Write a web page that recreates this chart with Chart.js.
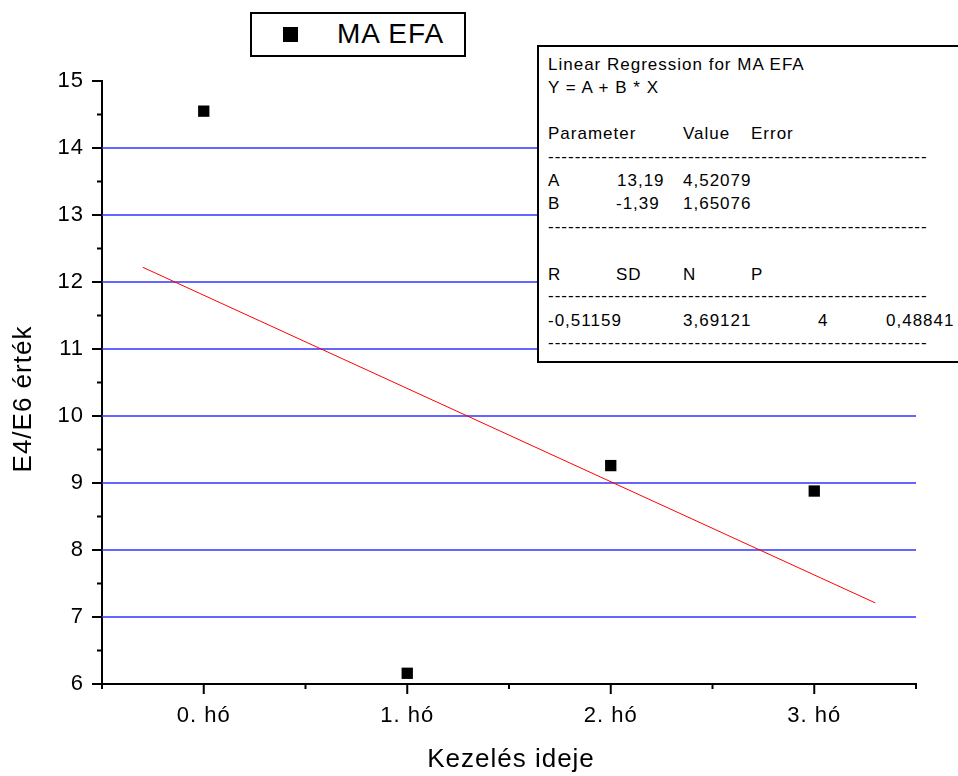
<!DOCTYPE html>
<html lang="hu">
<head>
    <meta charset="UTF-8">
    <title>MA EFA - E4/E6 érték</title>
    <script src="https://cdn.jsdelivr.net/npm/chart.js"></script>
    <style>
        body {
            margin: 0;
            background: #fff;
            font-family: "Liberation Sans", Arial, sans-serif;
            letter-spacing: 1px;
            color: #000;
        }
        #wrap {
            position: relative;
            width: 958px;
            height: 776px;
            overflow: hidden;
        }
        #myChart {
            position: absolute;
            left: 0;
            top: 0;
        }
        .abs { position: absolute; white-space: nowrap; }
        #xTitle {
            left: 411px; top: 743px; width: 200px;
            text-align: center; font-size: 26px; line-height: 30px;
        }
        #yTitle {
            left: -78px; top: 384px; width: 200px;
            text-align: center; font-size: 26px; line-height: 30px;
            transform: rotate(-90deg);
        }
        #legendBox {
            left: 250px; top: 12px; width: 216px; height: 45px;
            box-sizing: border-box; border: 2px solid #000; background: #fff;
        }
        #legendMark {
            left: 283px; top: 27px; width: 15px; height: 15px; background: #000;
        }
        #legendText {
            left: 337px; top: 18px; font-size: 28px; line-height: 32px;
        }
        #regBox {
            left: 537px; top: 45px; width: 440px; height: 318px;
            box-sizing: border-box; border: 2px solid #000; background: #fff;
        }
        .reg { font-size: 17px; line-height: 20px; }
        .dash { width: 380px; overflow: hidden; }
    </style>
</head>
<body>

<div id="wrap">
    <canvas id="myChart" width="958" height="776"></canvas>
    <div id="xTitle" class="abs">Kezelés ideje</div>
    <div id="yTitle" class="abs">E4/E6 érték</div>
    <div id="legendBox" class="abs"></div>
    <div id="legendMark" class="abs"></div>
    <div id="legendText" class="abs">MA EFA</div>
    <div id="regBox" class="abs"></div>
    <div id="regText"></div>
</div>

<script>
    // adatok
    const categories = ['0. hó', '1. hó', '2. hó', '3. hó'];
    const xValues = [0, 1, 2, 3];
    const efaValues = [14.55, 6.16, 9.26, 8.88];

    // illesztett egyenes végpontjai (leolvasva)
    const fitX = [-0.3, 3.3];
    const fitY = [12.22, 7.21];

    // kék vízszintes rácsvonalak
    const gridValues = [7, 8, 9, 10, 11, 12, 13, 14];

    // regressziós táblázat sorai: [baseline y, [[x, szöveg], ...]]
    const regRows = [
        [71, [[548, 'Linear Regression for MA EFA']]],
        [93.5, [[548, 'Y = A + B * X']]],
        [140, [[548, 'Parameter'], [683, 'Value'], [751, 'Error']]],
        [163, [[548, '-'.repeat(70)]]],
        [187, [[548, 'A'], [617, '13,19'], [683, '4,52079']]],
        [210, [[548, 'B'], [616, '-1,39'], [683, '1,65076']]],
        [233, [[548, '-'.repeat(70)]]],
        [281, [[548, 'R'], [616, 'SD'], [683, 'N'], [751, 'P']]],
        [302, [[548, '-'.repeat(70)]]],
        [327, [[548, '-0,51159'], [683, '3,69121'], [818, '4'], [886, '0,48841']]],
        [349, [[548, '-'.repeat(70)]]]
    ];

    const regText = document.getElementById('regText');
    regRows.forEach(function (row) {
        row[1].forEach(function (cell) {
            const d = document.createElement('div');
            d.className = 'abs reg' + (cell[1].startsWith('---') ? ' dash' : '');
            d.style.left = cell[0] + 'px';
            d.style.top = (row[0] - 16) + 'px';
            d.textContent = cell[1];
            regText.appendChild(d);
        });
    });

    // rácsvonalak és osztásjelek
    const axisDeco = {
        id: 'axisDeco',
        beforeUpdate(chart) { chart.ctx.letterSpacing = '1px'; },
        beforeDraw(chart) { chart.ctx.letterSpacing = '1px'; },
        beforeDatasetsDraw(chart) {
            const ctx = chart.ctx;
            const area = chart.chartArea;
            ctx.save();
            ctx.strokeStyle = 'rgb(50,50,255)';
            ctx.lineWidth = 1.5;
            gridValues.forEach(function (v) {
                const py = chart.scales.y.getPixelForValue(v);
                ctx.beginPath();
                ctx.moveTo(area.left, py);
                ctx.lineTo(area.right, py);
                ctx.stroke();
            });
            ctx.restore();
        },
        afterDraw(chart) {
            const ctx = chart.ctx;
            const area = chart.chartArea;
            ctx.save();
            ctx.strokeStyle = '#000';
            ctx.lineWidth = 2;
            chart.scales.y.ticks.forEach(function (t) {
                const py = chart.scales.y.getPixelForValue(t.value);
                const len = Number.isInteger(t.value) ? 10 : 5;
                ctx.beginPath();
                ctx.moveTo(area.left - len, py);
                ctx.lineTo(area.left, py);
                ctx.stroke();
            });
            chart.scales.x.ticks.forEach(function (t) {
                const px = chart.scales.x.getPixelForValue(t.value);
                const len = Number.isInteger(t.value) ? 10 : 5;
                ctx.beginPath();
                ctx.moveTo(px, area.bottom);
                ctx.lineTo(px, area.bottom + len);
                ctx.stroke();
            });
            ctx.restore();
        }
    };

    const ctx = document.getElementById('myChart').getContext('2d');
    const myChart = new Chart(ctx, {
        type: 'scatter',
        data: {
            datasets: [{
                label: 'MA EFA',
                data: xValues.map((x, i) => ({ x: x, y: efaValues[i] })),
                pointStyle: 'rect',
                pointRadius: 8,
                pointBackgroundColor: '#000',
                pointBorderWidth: 0,
                showLine: false
            }, {
                label: 'Linear fit',
                type: 'line',
                data: fitX.map((x, i) => ({ x: x, y: fitY[i] })),
                borderColor: '#ff0000',
                borderWidth: 1,
                pointRadius: 0,
                fill: false
            }]
        },
        options: {
            responsive: false,
            animation: false,
            layout: { padding: { top: 81, right: 42, left: 0, bottom: 0 } },
            plugins: {
                legend: { display: false },
                tooltip: { enabled: false }
            },
            scales: {
                x: {
                    type: 'linear',
                    min: -0.5,
                    max: 3.5,
                    afterFit: function (s) { s.height = 92; },
                    border: { display: true, color: '#000', width: 2 },
                    grid: {
                        drawOnChartArea: false,
                        tickColor: 'rgba(0,0,0,0)',
                        tickLength: 10
                    },
                    ticks: {
                        stepSize: 0.5,
                        autoSkip: false,
                        maxRotation: 0,
                        padding: 9,
                        color: '#000',
                        font: { family: "'Liberation Sans', Arial", size: 22 },
                        callback: function (v) {
                            return Number.isInteger(v) && v >= 0 && v < categories.length ? categories[v] : '';
                        }
                    }
                },
                y: {
                    min: 6,
                    max: 15,
                    afterFit: function (s) { s.width = 102; },
                    border: { display: true, color: '#000', width: 2 },
                    grid: {
                        drawOnChartArea: false,
                        tickColor: 'rgba(0,0,0,0)',
                        tickLength: 10
                    },
                    ticks: {
                        stepSize: 0.5,
                        autoSkip: false,
                        padding: 8,
                        color: '#000',
                        font: { family: "'Liberation Sans', Arial", size: 22 },
                        callback: function (v) {
                            return Number.isInteger(v) ? String(v) : '';
                        }
                    }
                }
            }
        },
        plugins: [axisDeco]
    });
</script>

</body>
</html>
